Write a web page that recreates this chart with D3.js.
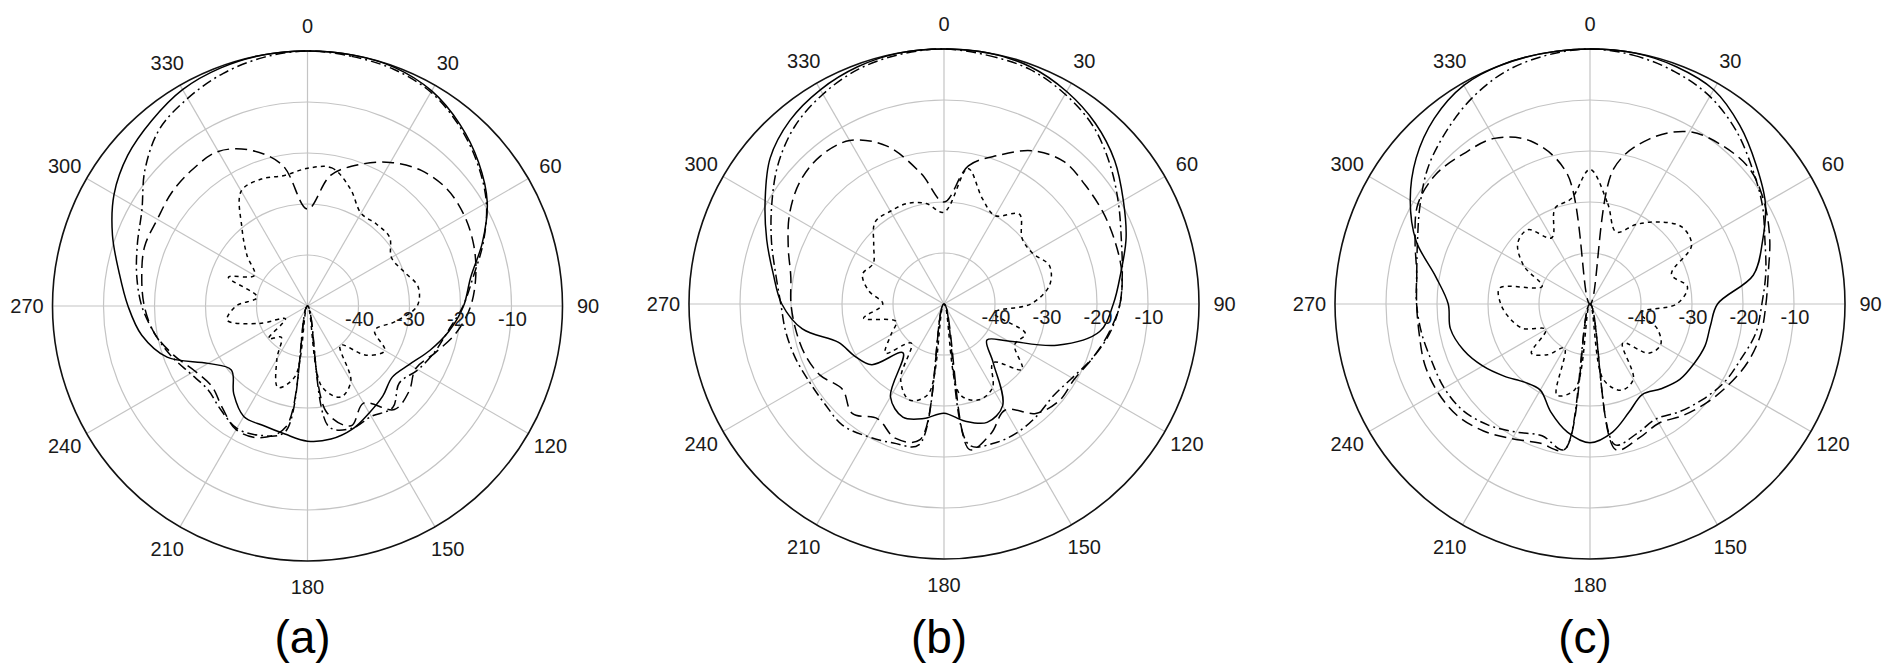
<!DOCTYPE html>
<html>
<head>
<meta charset="utf-8">
<script src="https://cdn.jsdelivr.net/npm/d3@7"></script>
<style>
  html, body { margin: 0; padding: 0; background: #ffffff; }
  svg { display: block; }
</style>
</head>
<body>
<svg id="chart" width="1883" height="664"></svg>
<script>
// Measurement angles (degrees, clockwise from 0 at the top)
const angles = d3.range(0, 360, 10);

// Angular tick labels and radial ring values (dB)
const angleTicks = [0, 30, 60, 90, 120, 150, 180, 210, 240, 270, 300, 330];
const ringTicks = [-40, -30, -20, -10];
const panelNames = ["(a)", "(b)", "(c)"];

// Panel (a) patterns, dB
const aSolid    = [0, 0, -0.2, -1.3, -3.5, -6.2, -9.3, -13.5, -17.5, -19.4, -21.8, -24.5, -27, -28.3, -27, -25.8, -24.3, -23.5, -23.5, -24.5, -25, -25, -27.5, -30.5, -27.5, -20.7, -17, -14.8, -12.5, -9.3, -6.2, -4, -2.5, -1, -0.3, 0];
const aDashDot  = [0, -0.3, -0.6, -1.6, -3.8, -6.5, -9.5, -13.3, -17, -19.5, -22, -23.5, -25, -26.5, -24, -25, -24.5, -26, -50, -25, -23, -22.3, -23.5, -24.5, -23.5, -21.5, -19.5, -17.5, -16, -14.5, -12.5, -8.4, -4.8, -3, -1.5, -0.5];
const aLongDash = [-31, -24, -20.5, -17.5, -15.3, -14.3, -14.5, -15.3, -16.5, -18, -20.3, -23.3, -25.5, -24, -23.5, -28, -25, -29, -50, -26, -22.5, -22, -24, -25.5, -24.5, -22, -19.5, -18, -17, -16, -16, -15.3, -15, -15, -17.5, -22];
const aDotted   = [-23, -22.5, -25.5, -29, -29, -29, -31, -30, -28, -28.5, -32.5, -36, -32.5, -35, -40, -33, -31, -34, -50, -36, -33, -38, -42, -40, -45, -40, -34, -36, -40, -33.5, -38, -34.5, -30, -24, -23.5, -24];

// Panel (b) patterns, dB
const bSolid    = [0, 0, -0.5, -1.9, -3.8, -6.3, -9.4, -12, -14.8, -16.8, -19, -26.4, -35.5, -39, -35, -27, -25.3, -26.7, -28.6, -27.2, -26.4, -29, -37.5, -31.5, -29.7, -28, -21.8, -18.2, -16, -13, -9.5, -5.5, -3, -1.5, -0.5, 0];
const bDashDot  = [0, -0.5, -1, -2.5, -4.5, -7.5, -10.5, -13, -14.5, -15.5, -17, -19, -21, -22, -21.5, -21, -21, -22, -50, -22, -21, -20, -19, -19.5, -19.5, -19, -18.5, -18, -16.5, -14, -11, -7.5, -4.5, -2.5, -1, -0.3];
const bLongDash = [-30, -22.5, -19, -15.3, -13.5, -13.8, -14, -14.3, -14.6, -15.5, -17.2, -19, -20.5, -20.5, -22, -26, -23, -21, -50, -23, -22, -24, -22, -24, -22, -21, -20.5, -20, -19.5, -17.5, -15, -13, -12.2, -13, -17, -24];
const bDotted   = [-32, -23, -28, -30, -27, -30, -30, -28, -29, -33, -40, -33, -34, -30, -35, -31, -30, -32, -50, -32, -30, -33, -40, -35, -38, -40, -34, -38, -35, -33, -34, -32, -29, -29, -29, -30];

// Panel (c) patterns, dB
const cSolid    = [0, 0, -0.5, -1.5, -4.3, -7.5, -10.3, -14, -17.5, -25, -26, -26, -26.5, -27, -28.3, -29.5, -27.5, -24.5, -22.8, -24.5, -27.5, -30.5, -30, -28, -25.7, -23.6, -22.2, -22.2, -19.3, -13.7, -9.3, -5.5, -2.5, -0.5, 0, 0];
const cDashDot  = [0, -0.5, -1.5, -3, -5.5, -8.5, -11, -13.5, -15, -16.3, -17, -18.5, -19.5, -21, -22.5, -24, -23, -22, -50, -21, -22.5, -21, -19, -17.5, -17, -17, -16.5, -16, -15.5, -14, -11.5, -8.5, -6, -3.5, -1.5, -0.5];
const cLongDash = [-50, -23, -15.5, -11, -9.5, -9, -10.5, -12.5, -14.5, -15.5, -16, -17, -18.5, -20, -21.5, -23, -22, -21, -50, -21, -21, -19.5, -17.5, -16, -15.5, -15.5, -16, -16, -15.5, -13.5, -11, -10.5, -11.5, -12.5, -16, -24];
const cDotted   = [-23.6, -30, -35, -32, -29, -26.5, -27, -33, -30.6, -33, -40, -36, -34, -35, -40, -33, -32, -35, -50, -33, -31, -40, -37, -35, -40, -36, -34, -32.5, -32, -40, -35, -31.5, -31, -35, -30, -29];

const seriesKeys = ["dotted", "longdash", "dashdot", "solid"];
const panelData = [
  { solid: aSolid, dashdot: aDashDot, longdash: aLongDash, dotted: aDotted },
  { solid: bSolid, dashdot: bDashDot, longdash: bLongDash, dotted: bDotted },
  { solid: cSolid, dashdot: cDashDot, longdash: cLongDash, dotted: cDotted }
];

// Layout of the three polar panels
const centers = [[307.5, 306], [944, 304], [1590, 304]];
const R = 255;
const dash = { solid: null, longdash: "12,6", dashdot: "10,4,2,4", dotted: "4,4" };
const font = "'Liberation Sans', Arial, Helvetica, sans-serif";

const svg = d3.select("#chart");

const r = d3.scaleLinear().domain([-50, 0]).range([0, R]).clamp(true);
const a = d3.scaleLinear().domain([0, 360]).range([0, 2 * Math.PI]);

const line = d3.lineRadial()
  .angle(d => a(d[0]))
  .radius(d => r(d[1]))
  .curve(d3.curveCatmullRomClosed.alpha(0.5));

panelData.forEach((data, i) => {
  const [cx, cy] = centers[i];
  const g = svg.append("g").attr("transform", `translate(${cx},${cy})`);

  // grid rings
  g.selectAll("circle.ring")
    .data(ringTicks)
    .join("circle")
    .attr("class", "ring")
    .attr("r", d => r(d))
    .attr("fill", "none")
    .attr("stroke", "#c4c4c4")
    .attr("stroke-width", 1.2);

  // spokes every 30 degrees
  g.selectAll("line.spoke")
    .data(angleTicks.filter(t => t < 180))
    .join("line")
    .attr("class", "spoke")
    .attr("x1", d => -R * Math.sin(a(d)))
    .attr("y1", d => R * Math.cos(a(d)))
    .attr("x2", d => R * Math.sin(a(d)))
    .attr("y2", d => -R * Math.cos(a(d)))
    .attr("stroke", "#c4c4c4")
    .attr("stroke-width", 1.2);

  // outer boundary
  g.append("circle")
    .attr("r", r(0))
    .attr("fill", "none")
    .attr("stroke", "#111")
    .attr("stroke-width", 1.6);

  // angle labels
  g.selectAll("text.ang")
    .data(angleTicks)
    .join("text")
    .attr("class", "ang")
    .attr("x", d => 1.1 * R * Math.sin(a(d)))
    .attr("y", d => -1.1 * R * Math.cos(a(d)))
    .attr("text-anchor", "middle")
    .attr("dominant-baseline", "central")
    .attr("font-family", font)
    .attr("font-size", 20)
    .attr("fill", "#1a1a1a")
    .text(d => d);

  // pattern curves
  seriesKeys.forEach(key => {
    const pts = angles.map((ang, k) => [ang, data[key][k]]);
    g.append("path")
      .attr("d", line(pts))
      .attr("fill", "none")
      .attr("stroke", "#000")
      .attr("stroke-width", 1.5)
      .attr("stroke-dasharray", dash[key])
      .attr("stroke-linejoin", "round");
  });

  // ring value labels
  g.selectAll("text.rv")
    .data(ringTicks)
    .join("text")
    .attr("class", "rv")
    .attr("x", d => r(d) + 1)
    .attr("y", 13)
    .attr("text-anchor", "middle")
    .attr("dominant-baseline", "central")
    .attr("font-family", font)
    .attr("font-size", 20)
    .attr("fill", "#1a1a1a")
    .text(d => d);

  // panel caption
  svg.append("text")
    .attr("x", cx - 5)
    .attr("y", 653)
    .attr("text-anchor", "middle")
    .attr("font-family", font)
    .attr("font-size", 46)
    .attr("fill", "#000")
    .text(panelNames[i]);
});
</script>
</body>
</html>
